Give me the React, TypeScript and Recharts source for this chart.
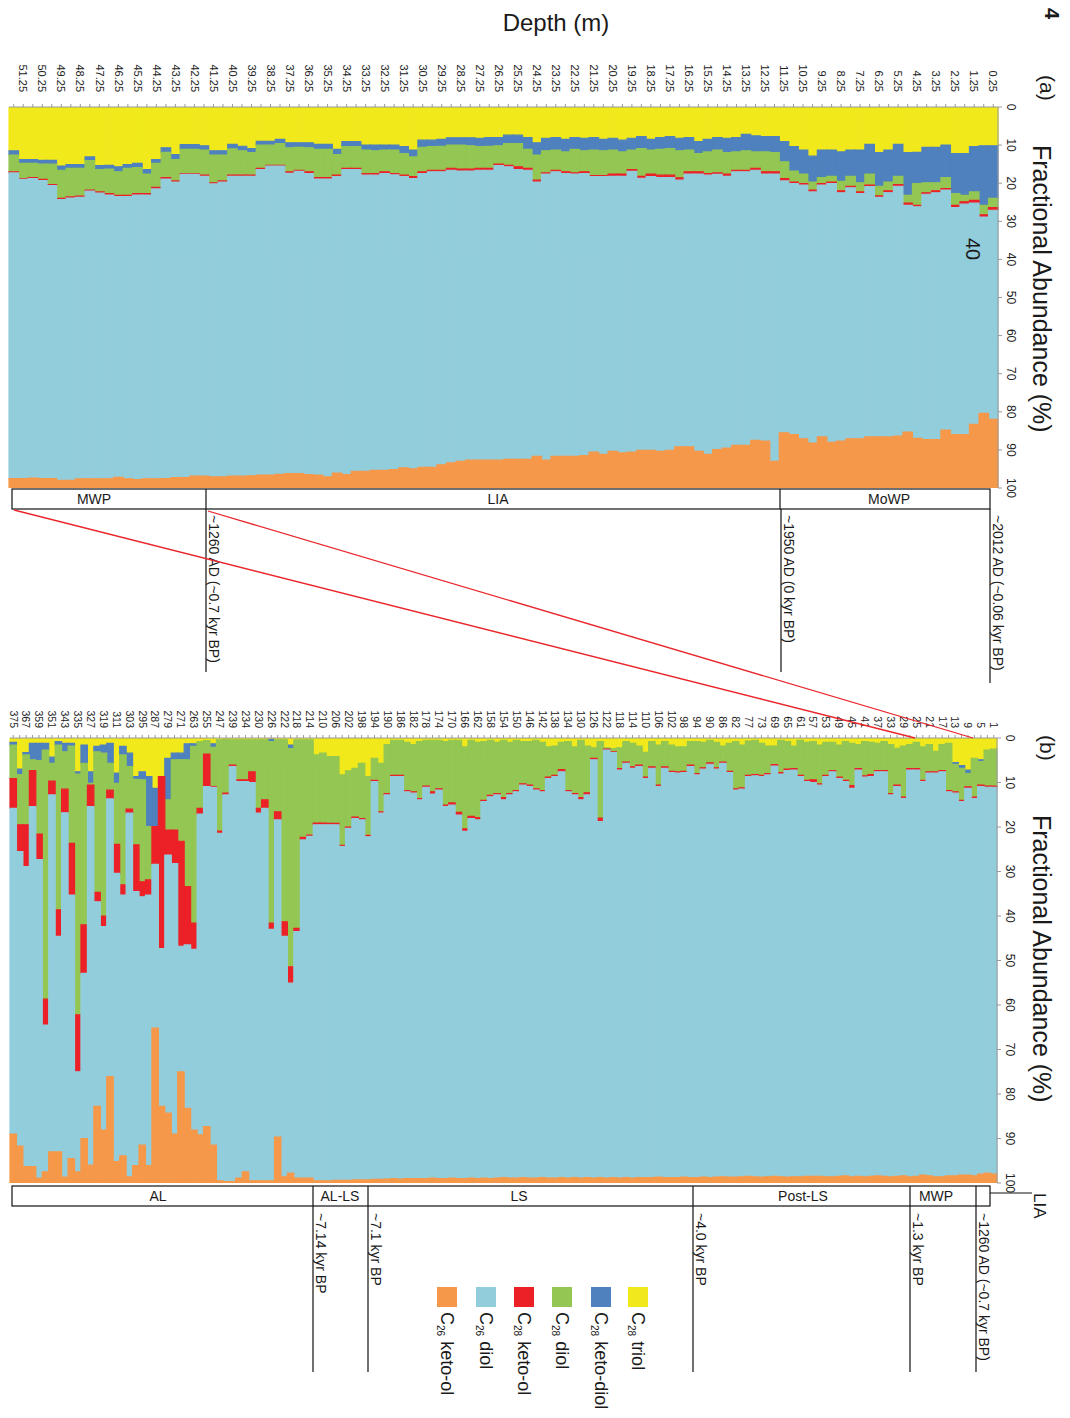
import React from 'react';
import { BarChart, Bar, XAxis, YAxis } from 'recharts';

const FONT = '"Liberation Sans", Arial, Helvetica, sans-serif';

// ---------- colours ----------
const COLORS = {
  triol: '#F1E91B',
  ketoDiol: '#4E81BD',
  c28Diol: '#93C652',
  c28KetoOl: '#EC2127',
  c26Diol: '#92CDDC',
  c26KetoOl: '#F69849',
};

const valueTicks = [0, 10, 20, 30, 40, 50, 60, 70, 80, 90, 100];

// ---------- panel (a): depth in cm ----------
const depthA = [0.25,0.75,1.25,1.75,2.25,2.75,3.25,3.75,4.25,4.75,5.25,5.75,6.25,6.75,7.25,7.75,8.25,8.75,9.25,9.75,10.25,10.75,11.25,11.75,12.25,12.75,13.25,13.75,14.25,14.75,15.25,15.75,16.25,16.75,17.25,17.75,18.25,18.75,19.25,19.75,20.25,20.75,21.25,21.75,22.25,22.75,23.25,23.75,24.25,24.75,25.25,25.75,26.25,26.75,27.25,27.75,28.25,28.75,29.25,29.75,30.25,30.75,31.25,31.75,32.25,32.75,33.25,33.75,34.25,34.75,35.25,35.75,36.25,36.75,37.25,37.75,38.25,38.75,39.25,39.75,40.25,40.75,41.25,41.75,42.25,42.75,43.25,43.75,44.25,44.75,45.25,45.75,46.25,46.75,47.25,47.75,48.25,48.75,49.25,49.75,50.25,50.75,51.25,51.75];

const triolA = [10.2,10.2,10.4,12.2,12.2,10.0,10.6,10.6,11.9,12.0, 9.8,11.3,12.0,9.8,11.3,11.3,11.8,11.3,11.3,12.9, 11.3,10.4,9.1,7.8,7.8,7.6,7.2,8.0,8.2,8.0, 8.5,9.1,8.0,8.2,7.8,8.0,8.5,7.8,8.2,8.7, 8.2,8.5,8.0,8.2,8.0,8.5,8.0,8.2,9.4,8.0, 7.4,7.4,8.0,8.0,8.2,8.1,8.1,8.1,8.5,8.7, 8.7,11.3,10.4,10.0,10.0,10.0,10.0,9.1,9.1,11.1, 9.8,9.8,9.4,9.4,9.4,8.5,9.0,9.0,10.9,10.3, 9.8,11.5,11.5,10.2,9.9,9.9,12.5,10.7,13.8,16.4, 14.8,15.1,15.7,15.3,15.4,13.1,15.1,15.1,15.5,14.0, 14.0,13.8,13.8,11.5];
const ketoDiolA = [13.8,15.6,11.9,11.0,10.5,8.5,9.3,9.3,8.2,11.2, 8.4,8.4,8.8,7.8,8.6,6.9,7.7,6.9,7.2,6.8, 6.3,6.4,5.3,4.2,4.0,4.2,4.3,3.8,3.8,3.3, 3.3,3.1,3.3,3.3,3.1,3.1,2.8,3.1,3.1,3.1, 3.1,3.0,3.3,3.3,3.1,3.3,3.3,3.3,3.2,3.1, 2.2,2.2,2.2,2.3,2.2,2.1,1.9,1.9,1.8,1.7, 1.9,1.8,1.8,1.3,1.3,1.5,1.3,1.3,1.3,1.4, 1.3,1.3,1.3,1.2,1.3,1.1,1.0,1.0,1.1,1.2, 1.2,1.1,1.1,1.1,1.2,1.2,1.3,1.2,1.0,1.2, 1.1,1.0,1.3,1.0,1.0,1.0,1.0,1.0,1.1,1.0, 1.0,1.0,1.0,1.1];
const c28DiolA = [2.4,2.5,2.2,1.7,3.1,2.9,2.1,2.6,5.7,2.0, 2.2,2.3,2.5,2.9,2.4,2.6,2.5,1.5,1.6,2.1, 2.5,2.9,4.4,5.0,5.2,4.3,5.1,4.8,5.6,6.0, 5.7,4.8,5.7,7.1,7.0,6.8,6.3,7.3,5.1,5.8, 6.3,6.5,6.7,5.5,6.2,5.2,5.3,5.8,6.6,5.0, 6.1,5.7,4.8,5.8,5.7,6.1,6.3,6.1,6.3,6.2, 6.4,5.2,5.7,6.2,5.7,6.0,6.2,5.7,5.7,5.4, 7.4,7.4,6.3,6.0,6.3,5.7,5.3,6.1,5.9,6.4, 6.9,6.8,7.3,6.6,6.4,6.4,5.6,6.6,6.3,5.1, 6.8,7.1,6.2,6.4,5.9,7.7,7.3,7.5,7.4,5.4, 4.0,3.7,4.0,4.4];
const c28KetoOlA = [0.7,0.6,0.7,0.6,0.6,0.4,0.5,0.4,0.4,0.6, 0.4,0.5,0.4,0.4,0.4,0.4,0.5,0.4,0.4,0.5, 0.4,0.4,0.6,0.6,0.6,0.5,0.4,0.4,0.6,0.4, 0.4,0.6,0.6,0.6,0.6,0.6,0.7,0.5,0.5,0.6, 0.6,0.3,0.3,0.5,0.3,0.5,0.4,0.3,0.5,0.5, 0.7,0.4,0.4,0.5,0.5,0.5,0.5,0.5,0.4,0.4, 0.5,0.5,0.4,0.3,0.5,0.4,0.4,0.3,0.3,0.4, 0.4,0.4,0.5,0.3,0.4,0.2,0.2,0.3,0.3,0.3, 0.3,0.3,0.3,0.3,0.2,0.2,0.3,0.4,0.4,0.4, 0.4,0.3,0.3,0.4,0.3,0.3,0.3,0.3,0.3,0.2, 0.3,0.3,0.2,0.3];
const c26DiolA = [54.9,51.5,58.1,60.5,59.6,63.0,64.8,64.4,60.8,59.5, 65.6,64.1,62.9,65.7,64.4,65.9,65.2,67.9,66.1,65.9, 66.6,65.9,66.1,75.4,70.1,70.9,71.8,71.8,71.3,72.2, 73.3,72.8,71.6,70.0,71.6,71.9,71.8,71.4,73.7,72.6, 72.2,72.9,72.3,74.0,74.1,74.2,74.7,75.1,72.0,75.9, 76.1,76.8,77.3,76.1,76.1,75.9,76.2,76.8,76.9,77.6, 77.1,76.2,76.4,77.4,77.9,77.5,77.7,79.2,80.1,77.8, 78.2,77.7,79.0,79.3,78.8,80.9,81.1,80.2,78.6,78.7, 78.7,77.4,76.9,78.7,79.2,79.6,77.6,78.6,76.1,74.5, 74.7,74.1,73.7,74.5,75.0,75.5,73.9,74.1,73.7,76.9, 78.2,78.6,78.5,80.2];
const c26KetoOlA = [18.0,19.6,16.7,14.0,14.0,15.2,12.7,12.7,13.0,14.7, 13.6,13.4,13.4,13.4,12.9,12.9,12.3,12.0,13.4,11.8, 12.9,14.0,14.5,7.0,12.3,12.5,11.2,11.2,10.5,10.1, 8.8,9.6,10.8,10.8,9.9,9.6,9.9,9.9,9.4,9.2, 9.6,8.8,9.4,8.5,8.3,8.3,8.3,7.3,8.3,7.5, 7.5,7.5,7.3,7.3,7.3,7.3,7.0,6.6,6.1,5.4, 5.4,5.0,5.3,4.8,4.6,4.6,4.4,4.4,3.5,3.9, 2.9,3.4,3.5,3.8,3.8,3.6,3.4,3.4,3.2,3.1, 3.1,2.9,2.9,3.1,3.1,2.7,2.7,2.5,2.4,2.4, 2.2,2.4,2.8,2.4,2.4,2.4,2.4,2.0,2.0,2.5, 2.5,2.6,2.5,2.5];

// ---------- panel (b): depth in cm ----------
const depthB = [1,3,5,7,9,11,13,15,17,19, 21,23,25,27,29,31,33,35,37,39, 41,43,45,47,49,51,53,55,57,59, 61,63,65,67,69,71,73,75,77,80, 82,84,86,88,90,92,94,96,98,100, 102,104,106,108,110,112,114,116,118,120, 122,124,126,128,130,132,134,136,138,140, 142,144,146,148,150,152,154,156,158,160, 162,164,166,168,170,172,174,176,178,180, 182,184,186,188,190,192,194,196,198,200, 202,204,206,208,210,212,214,216,218,220, 222,224,226,228,230,232,234,237,239,243, 247,251,255,259,263,267,271,275,279,283, 287,291,295,299,303,307,311,315,319,323, 327,331,335,339,343,347,351,355,359,363, 367,371,375];

const triolB = [2.5,2.7,4.9,4.6,7.2,6.2,5.5,1.2,1.5,3.0, 1.5,2.0,1.0,1.5,1.8,2.3,1.5,0.8,1.2,1.0, 0.8,1.5,1.2,0.8,1.6,1.0,1.0,1.6,0.8,1.0, 0.5,1.8,0.8,0.5,1.8,1.8,1.2,0.5,0.7,1.6, 0.8,1.2,1.8,1.0,0.5,1.0,0.8,0.8,2.0,2.0, 1.6,0.8,1.6,0.8,3.2,1.8,1.2,0.8,2.2,2.4, 2.2,0.8,2.2,1.8,0.5,2.0,0.8,1.0,1.8,2.0, 1.0,0.5,0.8,0.8,0.5,1.0,0.5,1.0,0.5,0.8, 1.0,0.5,2.0,0.5,0.5,0.8,0.5,0.5,0.5,0.8, 1.5,1.0,0.5,0.5,1.5,5.7,4.6,8.7,5.7,6.8, 7.4,8.3,4.2,4.2,3.4,3.8,0.4,0.4,0.4,1.6, 0.4,0.4,0.3,0.4,0.4,0.4,0.4,0.4,0.4,0.3, 0.4,1.3,0.6,0.8,1.3,1.3,3.4,3.4,4.6,8.7, 11.3,8.7,7.6,8.7,3.4,1.9,7.9,1.2,1.6,1.9, 7.6,1.6,7.6,1.2,1.2,0.8,4.3,1.2,1.2,1.2, 3.3,7.0,1.0];
const ketoDiolB = [0,0,0.4,0,0.8,0.6,0.4,0,0,0, 0,0,0,0,0,0,0,0,0,0, 0,0,0,0,0,0,0,0,0,0, 0,0,0,0,0,0,0,0,0,0, 0,0,0,0,0,0,0,0,0,0, 0,0,0,0,0,0,0,0,0,0, 0,0,0,0,0,0,0,0,0,0, 0,0,0,0,0,0,0,0,0,0, 0,0,0,0,0,0,0,0,0,0, 0,0,0,0,0,0,0,0,0,0, 0,0,0,0,0,0,0,0,0,0.8, 0,0,0.5,0,0,0,0,0,0,0, 0,0.8,0,0,0.6,3.6,1.5,1.5,9.3,0, 8.6,11.2,1.8,0.6,3.0,1.9,2.3,4.5,1.8,1.2, 2.6,4.1,0.5,0.6,1.9,0.8,1.4,1.5,3.9,3.7, 0.5,1.2,0.6];
const c28DiolB = [8.3,8.1,5.3,8.7,3.0,7.2,6.2,10.6,5.8,4.6, 6.1,7.5,5.9,5.4,11.5,8.3,11.0,6.5,6.1,7.2, 7.7,5.4,9.5,8.7,7.2,6.3,7.4,8.7,8.6,8.5, 7.9,5.1,6.2,7.3,4.2,6.2,7.2,7.7,7.7,9.6, 10.6,6.3,3.6,5.7,5.1,5.7,7.2,5.3,5.5,5.6, 5.9,5.7,9.0,5.7,5.6,4.3,5.3,4.6,4.7,0.7, 0.3,17.2,2.4,10.5,12.9,10.5,11.0,6.1,6.6,6.8, 10.8,10.9,9.8,9.5,11.3,11.5,12.9,11.5,12.4,13.2, 16.9,17.1,18.4,16.2,14.1,14.3,10.9,11.6,10.3,12.8, 10.6,10.8,7.9,7.9,11.0,10.9,4.9,13.2,12.4,11.0, 12.6,15.8,15.0,15.0,15.7,15.3,21.4,21.9,42.4,49.0, 40.9,16.2,40.8,13.5,15.4,7.2,9.0,9.0,5.7,12.1, 20.5,8.8,3.0,15.0,39.7,28.5,18.3,15.8,6.8,0, 0,12.0,22.9,14.7,9.6,29.2,13.7,6.0,36.6,31.6, 0.4,36.3,54.1,21.9,8.4,37.0,4.0,56.0,16.5,2.4, 15.7,11.3,7.5];
const c28KetoOlB = [0.3,0.3,0.3,0.3,0.3,0.3,0.3,0.3,0.3,0.3, 0.3,0.3,0.3,0.3,0.3,0.3,0.3,0.3,0.3,0.5, 0.3,0.3,0.6,0.3,0.3,0.3,0.3,0.3,0.6,0.3, 0.3,0.3,0.3,0.3,0.3,0.3,0.3,0.3,0.3,0.3, 0.3,0.3,0.3,0.3,0.3,0.3,0.3,0.3,0.3,0.3, 0.3,0.3,0.3,0.3,0.3,0.3,0.3,0.3,0.3,0.2, 0.2,0.8,0.3,0.5,0.5,0.3,0.3,0.5,0.3,0.3, 0.3,0.3,0.3,0.3,0.3,0.3,0.5,0.3,0.3,0.3, 0.5,0.5,0.6,0.6,0.5,0.3,0.3,0.5,0.3,0.3, 0.3,0.3,0.3,0.3,0.3,0.3,0.3,0.3,0.3,0.3, 0.3,0.3,0.3,0.3,0.4,0.4,0.3,0.6,0.7,3.7, 3.3,1.8,1.4,1.9,1.1,2.4,0.4,0.4,0.3,0.4, 0.5,0.2,7.3,1.3,5.9,13.1,23.6,7.5,5.6,38.6, 8.5,3.4,3.4,10.5,0.9,2.3,6.5,2.0,2.4,2.1, 4.8,10.9,12.8,11.6,5.3,6.0,3.1,5.8,5.7,8.1, 9.4,6.0,6.7];
const c26DiolB = [86.9,86.7,87.1,84.8,86.9,83.9,86.0,86.3,91.0,90.7, 90.5,88.4,91.3,91.4,84.8,87.6,85.8,90.9,90.8,89.8, 89.8,91.3,87.3,88.6,89.4,91.0,89.9,87.9,88.5,88.7, 89.9,91.4,91.4,90.5,92.2,90.3,90.0,90.1,89.8,87.1, 87.0,90.9,92.9,91.7,92.9,91.7,90.5,92.4,90.9,90.9, 91.0,92.0,87.8,92.0,89.7,92.4,92.1,93.1,91.7,95.5, 96.2,80.0,94.0,86.0,85.0,86.0,86.8,91.2,90.2,89.8, 86.7,87.2,88.0,88.2,86.8,86.1,84.9,86.1,85.8,84.6, 80.6,80.8,78.0,81.7,83.8,83.6,87.3,86.3,87.9,85.1, 86.6,86.9,90.4,90.3,86.3,82.3,89.4,77.1,80.9,81.2, 79.1,75.0,79.9,80.0,80.0,80.0,76.8,76.0,55.4,42.7, 54.0,71.3,56.5,83.7,82.6,89.5,87.7,89.1,93.3,86.9, 78.1,80.4,76.4,72.1,40.6,36.7,28.2,60.8,58.0,35.5, 36.8,60.8,55.8,61.6,81.7,58.6,64.8,62.4,45.7,46.0, 80.6,37.1,22.5,59.2,81.9,48.4,80.2,33.0,71.6,80.9, 67.4,66.2,73.2];
const c26KetoOlB = [2.0,2.2,2.0,1.6,1.8,1.8,1.6,1.6,1.4,1.4, 1.6,1.8,1.5,1.4,1.6,1.5,1.4,1.5,1.6,1.5, 1.4,1.5,1.4,1.6,1.5,1.4,1.4,1.5,1.5,1.5, 1.4,1.4,1.3,1.4,1.5,1.4,1.3,1.4,1.5,1.4, 1.3,1.3,1.4,1.3,1.2,1.3,1.2,1.2,1.3,1.2, 1.2,1.2,1.3,1.2,1.2,1.2,1.1,1.2,1.1,1.2, 1.1,1.2,1.1,1.2,1.1,1.2,1.1,1.2,1.1,1.1, 1.2,1.1,1.1,1.2,1.1,1.1,1.2,1.1,1.0,1.1, 1.0,1.1,1.0,1.0,1.1,1.0,1.0,1.1,1.0,1.0, 1.0,1.0,0.9,1.0,0.9,0.8,0.8,0.7,0.7,0.7, 0.6,0.6,0.6,0.5,0.5,0.5,1.1,1.1,1.1,2.2, 1.4,10.3,0.5,0.5,0.5,0.5,2.5,1.1,0.3,0.3, 0.5,8.5,12.7,10.8,11.9,16.8,25.0,11.0,15.7,17.2, 34.8,3.9,8.5,3.9,1.4,6.1,4.8,23.9,11.9,17.2, 4.0,10.0,2.5,5.5,1.3,7.0,7.0,2.5,1.1,3.7, 3.7,8.3,11.0];

// ---------- text ----------
const seriesDefs = [
  { key: 'triol', color: COLORS.triol },
  { key: 'ketoDiol', color: COLORS.ketoDiol },
  { key: 'c28Diol', color: COLORS.c28Diol },
  { key: 'c28KetoOl', color: COLORS.c28KetoOl },
  { key: 'c26Diol', color: COLORS.c26Diol },
  { key: 'c26KetoOl', color: COLORS.c26KetoOl },
];
const legendItems = [
  { sub: '26', rest: ' keto-ol', color: COLORS.c26KetoOl },
  { sub: '26', rest: ' diol', color: COLORS.c26Diol },
  { sub: '28', rest: ' keto-ol', color: COLORS.c28KetoOl },
  { sub: '28', rest: ' diol', color: COLORS.c28Diol },
  { sub: '28', rest: ' keto-diol', color: COLORS.ketoDiol },
  { sub: '28', rest: ' triol', color: COLORS.triol },
];
const periodLabelsA = ['MWP', 'LIA', 'MoWP'];
const periodLabelsB = ['AL', 'AL-LS', 'LS', 'Post-LS', 'MWP'];
const ageLabelsA = ['~1260 AD (~0.7 kyr BP)', '~1950 AD (0 kyr BP)', '~2012 AD (~0.06 kyr BP)'];
const ageLabelsB = ['~7.14 kyr BP', '~7.1 kyr BP', '~4.0 kyr BP', '~1.3 kyr BP', '~1260 AD (~0.7 kyr BP)'];

function buildRows(depths: number[], t: number[], kd: number[], d28: number[], k28: number[], d26: number[], k26: number[]) {
  return depths.map((d, i) => ({
    d,
    triol: t[i],
    ketoDiol: kd[i],
    c28Diol: d28[i],
    c28KetoOl: k28[i],
    c26Diol: d26[i],
    c26KetoOl: k26[i],
  }));
}

function makeDepthTick(cats: number[], fontSize: number) {
  return (props: any) => {
    const { x, y, payload } = props;
    const idx = cats.indexOf(payload.value);
    if (idx % 2 !== 0) return <g />;
    return (
      <text x={x} y={y} dy={fontSize * 0.35} textAnchor="end" fontSize={fontSize} fill="#222" fontFamily={FONT}>
        {String(payload.value)}
      </text>
    );
  };
}

function StackPanel(props: { rows: any[]; cats: number[]; width: number; margin: any; yWidth: number; tickFont: number; tickMargin: number; barSize: number }) {
  const { rows, cats, width, margin, yWidth, tickFont, tickMargin, barSize } = props;
  return (
    <BarChart layout="vertical" width={width} height={1070} data={rows} margin={margin} barCategoryGap={0} barGap={0} barSize={barSize}>
      <XAxis
        type="number"
        domain={[0, 100]}
        ticks={valueTicks}
        orientation="top"
        height={30}
        allowDataOverflow
        tickSize={4}
        tickMargin={5}
        interval={0}
        tick={{ fontSize: 12, fill: '#222', fontFamily: FONT }}
        axisLine={{ stroke: '#9a9a9a' }}
        tickLine={{ stroke: '#9a9a9a' }}
      />
      <YAxis
        type="category"
        dataKey="d"
        width={yWidth}
        interval={0}
        tickSize={3}
        tickMargin={tickMargin}
        tick={makeDepthTick(cats, tickFont)}
        axisLine={{ stroke: '#9a9a9a' }}
        tickLine={{ stroke: '#9a9a9a' }}
      />
      {seriesDefs.map((s) => (
        <Bar key={s.key} dataKey={s.key} stackId="s" fill={s.color} stroke={s.color} strokeWidth={1.2} isAnimationActive={false} />
      ))}
    </BarChart>
  );
}

function Overlay() {
  const txt = { fontFamily: FONT, fill: '#1a1a1a' } as const;
  const aBoxU0 = 489, aBoxU1 = 509;
  const aDiv = [864, 290];
  const aLabelV = [976, 572, 181];
  const aAgeV = [864, 289, 80];
  const aAgeEnd = [672, 672, 683];
  const bBoxU0 = 1186, bBoxU1 = 1206;
  const bDiv = [757, 702, 377, 160, 94];
  const bLabelV = [912, 730, 551, 267, 134];
  const bAgeV = [757, 702, 377, 160, 94];
  const legendV = [623, 584, 546, 508, 469, 432];
  return (
    <svg width={1418} height={1070} style={{ position: 'absolute', left: 0, top: 0, overflow: 'visible', pointerEvents: 'none' }}>
      {/* figure number fragment */}
      <text x={8} y={25} fontSize={20} fontWeight={700} {...txt}>4</text>
      {/* Depth title */}
      <text x={22} y={514} transform="rotate(-90 22 514)" textAnchor="middle" dominantBaseline="central" fontSize={24} {...txt}>Depth (m)</text>
      {/* panel labels */}
      <text x={75} y={30} fontSize={21} {...txt}>(a)</text>
      <text x={145} y={37} fontSize={25} {...txt}>Fractional Abundance (%)</text>
      <text x={735} y={30} fontSize={21} {...txt}>(b)</text>
      <text x={815} y={37} fontSize={25} {...txt}>Fractional Abundance (%)</text>
      <text x={238} y={104} fontSize={20} {...txt}>40</text>

      {/* panel (a) period box */}
      <rect x={aBoxU0} y={80} width={aBoxU1 - aBoxU0} height={1058 - 80} fill="#fff" stroke="#111" strokeWidth={1.2} />
      {aDiv.map((v, i) => (
        <line key={'ad' + i} x1={aBoxU0} x2={aBoxU1} y1={v} y2={v} stroke="#111" strokeWidth={1.2} />
      ))}
      {periodLabelsA.map((l, i) => (
        <text key={'al' + i} x={499} y={aLabelV[i]} transform={`rotate(-90 499 ${aLabelV[i]})`} textAnchor="middle" dominantBaseline="central" fontSize={14} {...txt}>{l}</text>
      ))}
      {ageLabelsA.map((l, i) => (
        <g key={'aa' + i}>
          <line x1={aBoxU1} x2={aAgeEnd[i]} y1={aAgeV[i]} y2={aAgeV[i]} stroke="#111" strokeWidth={1.2} />
          <text x={515} y={aAgeV[i] - 3} fontSize={14} {...txt}>{l}</text>
        </g>
      ))}

      {/* connecting red lines */}
      <line x1={510} y1={1056} x2={738} y2={155} stroke="#E8262B" strokeWidth={1.3} />
      <line x1={511} y1={862} x2={738} y2={97} stroke="#E8262B" strokeWidth={1.3} />

      {/* panel (b) period box */}
      <rect x={bBoxU0} y={80} width={bBoxU1 - bBoxU0} height={1058 - 80} fill="#fff" stroke="#111" strokeWidth={1.2} />
      {bDiv.map((v, i) => (
        <line key={'bd' + i} x1={bBoxU0} x2={bBoxU1} y1={v} y2={v} stroke="#111" strokeWidth={1.2} />
      ))}
      {periodLabelsB.map((l, i) => (
        <text key={'bl' + i} x={1196} y={bLabelV[i]} transform={`rotate(-90 1196 ${bLabelV[i]})`} textAnchor="middle" dominantBaseline="central" fontSize={14} {...txt}>{l}</text>
      ))}
      {ageLabelsB.map((l, i) => (
        <g key={'ba' + i}>
          <line x1={bBoxU1} x2={1372} y1={bAgeV[i]} y2={bAgeV[i]} stroke="#111" strokeWidth={1.2} />
          <text x={1213} y={bAgeV[i] - 3} fontSize={14} {...txt}>{l}</text>
        </g>
      ))}
      {/* LIA pointer */}
      <line x1={1193} x2={1193} y1={80} y2={38} stroke="#111" strokeWidth={1.2} />
      <text x={1193} y={36} fontSize={17} {...txt}>LIA</text>

      {/* legend */}
      {legendItems.map((it, i) => (
        <g key={'lg' + i}>
          <rect x={1287} y={legendV[i] - 10} width={20} height={20} fill={it.color} />
          <text x={1312} y={legendV[i] + 6.5} fontSize={18} {...txt}>
            C<tspan fontSize={10} dy={4}>{it.sub}</tspan>
            <tspan dy={-4}>{it.rest}</tspan>
          </text>
        </g>
      ))}
    </svg>
  );
}

export default function App() {
  const rowsA = buildRows(depthA, triolA, ketoDiolA, c28DiolA, c28KetoOlA, c26DiolA, c26KetoOlA);
  const rowsB = buildRows(depthB, triolB, ketoDiolB, c28DiolB, c28KetoOlB, c26DiolB, c26KetoOlB);
  return (
    <div style={{ position: 'absolute', left: 0, top: 0, width: 1070, height: 1418, overflow: 'hidden', background: '#fff' }}>
      <div
        style={{
          position: 'absolute',
          left: 0,
          top: 0,
          width: 1418,
          height: 1070,
          transformOrigin: '0 0',
          transform: 'translateX(1070px) rotate(90deg)',
        }}
      >
        <div style={{ position: 'absolute', left: 0, top: 0 }}>
          <StackPanel rows={rowsA} cats={depthA} width={500} margin={{ top: 42, right: 12, bottom: 9, left: 0 }} yWidth={107} tickFont={11} tickMargin={12} barSize={9.5} />
        </div>
        <div style={{ position: 'absolute', left: 600, top: 0 }}>
          <StackPanel rows={rowsB} cats={depthB} width={600} margin={{ top: 43, right: 17, bottom: 10, left: 98 }} yWidth={40} tickFont={10.5} tickMargin={7} barSize={6.45} />
        </div>
        <Overlay />
      </div>
    </div>
  );
}
